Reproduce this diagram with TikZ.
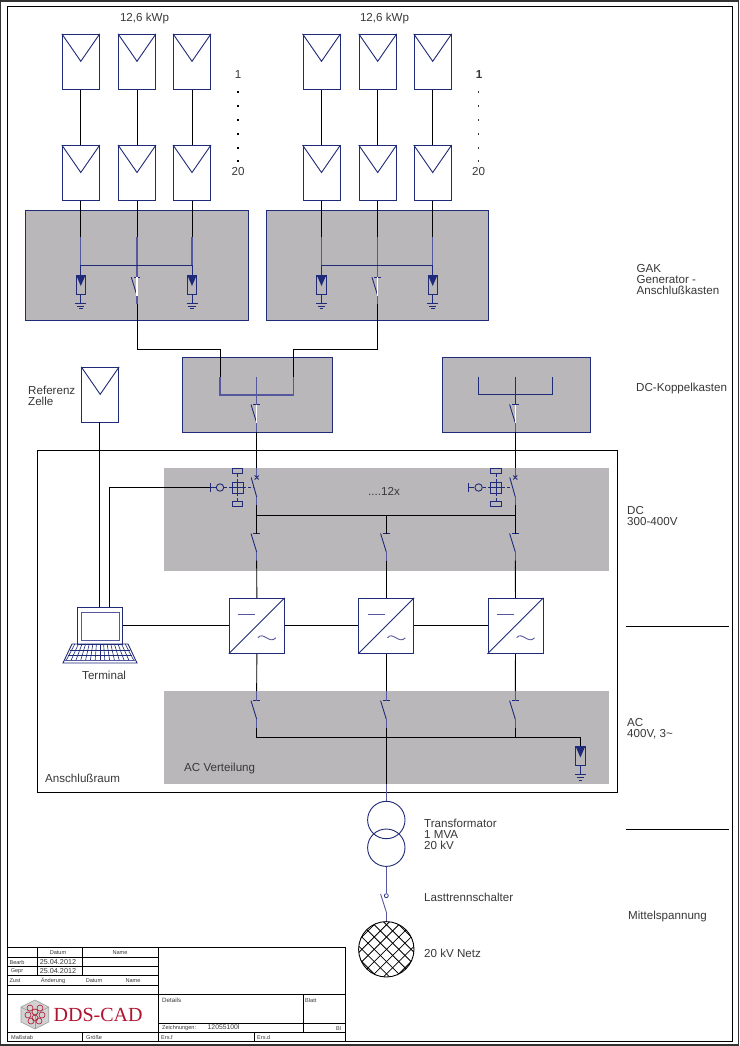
\documentclass[tikz,border=0pt]{standalone}
\usepackage{fontspec}
\usetikzlibrary{calc}
\setmainfont{Liberation Sans}
\newfontfamily\logofont{Liberation Serif}
\definecolor{navy}{HTML}{1F2A78}
\definecolor{softblue}{HTML}{55589F}
\definecolor{boxgrey}{HTML}{B9B7BA}
\definecolor{txtgrey}{HTML}{383838}
\definecolor{logored}{HTML}{B0142F}
\definecolor{edgegrey}{HTML}{333333}
\tikzset{
  wire/.style={draw=black,line width=0.95pt},
  blueline/.style={draw=navy,line width=0.9pt},
  softline/.style={draw=softblue,line width=1.2pt},
  softthin/.style={draw=softblue,line width=0.9pt},
  pvbox/.style={draw=navy,line width=0.95pt,fill=white,minimum width=37pt,minimum height=55pt,inner sep=0pt},
  greybox/.style={draw=navy,line width=0.9pt,fill=boxgrey,inner sep=0pt,anchor=north west},
  greystrip/.style={fill=boxgrey,inner sep=0pt,anchor=north west},
  invbox/.style={draw=navy,line width=0.95pt,fill=white,minimum width=55pt,minimum height=55pt,inner sep=0pt},
  lbl/.style={anchor=west,inner sep=0pt,text=txtgrey,align=left,font=\fontsize{11.6}{11}\selectfont},
  lblc/.style={inner sep=0pt,text=txtgrey,font=\fontsize{11.6}{11}\selectfont},
  smalltxt/.style={inner sep=0pt,text=txtgrey,font=\fontsize{5.6}{6}\selectfont},
  smalltxtl/.style={anchor=west,inner sep=0pt,text=txtgrey,font=\fontsize{5.6}{6}\selectfont},
  tbl/.style={draw=black,line width=0.9pt},
}
% PV module
\newcommand{\pvmod}[3]{%
  \node[pvbox] (#1) at (#2,#3) {};
  \draw[blueline,line join=miter] (#1.north west) -- ($(#1.north)+(0,-27.5pt)$) -- (#1.north east);
}
% diode with earth: name, x, y top
\newcommand{\sdiode}[3]{%
  \node[draw=navy,line width=0.9pt,minimum width=9.4pt,minimum height=19pt,inner sep=0pt,anchor=north] (#1) at (#2,#3) {};
  \fill[navy] ($(#1.north west)+(0.5pt,-0.5pt)$) rectangle ($(#1.north east)+(-0.5pt,-2.4pt)$);
  \fill[navy] ($(#1.north west)+(1pt,-2pt)$) -- ($(#1.north east)+(-1pt,-2pt)$) -- ($(#1.north)+(0,-11.5pt)$) -- cycle;
  \coordinate (#1e) at ($(#1.south)+(0,-9pt)$);
  \draw[blueline] (#1.south) -- (#1e);
  \draw[blueline] ($(#1e)+(-5.5pt,0)$) -- ($(#1e)+(5.5pt,0)$);
  \draw[blueline] ($(#1e)+(-3.6pt,-2.8pt)$) -- ($(#1e)+(3.6pt,-2.8pt)$);
  \draw[blueline] ($(#1e)+(-1.8pt,-5.4pt)$) -- ($(#1e)+(1.8pt,-5.4pt)$);
}
% disconnector: name, x, y of tick
\newcommand{\swt}[3]{%
  \coordinate (#1t) at (#2,#3);
  \coordinate (#1m) at (#2,#3+18.5);
  \coordinate (#1b) at (#2,#3+27);
  \draw[blueline] ($(#1t)+(-3.3pt,0)$) -- ($(#1t)+(3.3pt,0)$);
  \draw[blueline] ($(#1t)+(-5.7pt,0)$) -- (#1m);
  \draw[softline] (#1m) -- (#1b);
}
% inverter: name, x
\newcommand{\inverter}[2]{%
  \node[invbox] (#1) at (#2,625.8) {};
  \draw[blueline] (#1.south west) -- (#1.north east);
  \draw[softthin] ($(#1.center)+(-18.8pt,11.5pt)$) -- ($(#1.center)+(-1.5pt,11.5pt)$);
  \draw[softthin] ($(#1.center)+(1.2pt,-12pt)$) .. controls ($(#1.center)+(6pt,-5pt)$) and ($(#1.center)+(13pt,-19pt)$) .. ($(#1.center)+(19pt,-12pt)$);
}
% motor breaker: name prefix, x offset
\newcommand{\breaker}[2]{%
  \begin{scope}[shift={(#2,0)}]
    \coordinate (#1tick) at (210,487.5);
    \node[draw=navy,line width=0.9pt,circle,minimum size=7.4pt,inner sep=0pt] (#1c) at (220,487.5) {};
    \node[draw=navy,line width=0.9pt,minimum width=11pt,minimum height=11pt,inner sep=0pt] (#1s) at (237.5,487.5) {};
    \node[draw=navy,line width=0.9pt,minimum width=10.4pt,minimum height=5pt,inner sep=0pt] (#1u) at (237.5,470.8) {};
    \node[draw=navy,line width=0.9pt,minimum width=10.4pt,minimum height=5pt,inner sep=0pt] (#1d) at (237.5,503.8) {};
    \draw[blueline] (210,483.3) -- (210,491.7);
    \draw[blueline] (#1tick) -- (#1c.west);
    \draw[blueline] (#1s.north) -- (#1s.south);
    \draw[blueline] (#1s.west) -- (#1s.east);
    \draw[blueline,dash pattern=on 3pt off 2pt] (#1c.east) -- (#1s.west);
    \draw[blueline,dash pattern=on 3pt off 2pt] (#1s.east) -- (253.8,487.5);
    \draw[blueline,dash pattern=on 3pt off 2pt] (#1u.south) -- (#1s.north);
    \draw[blueline,dash pattern=on 3pt off 2pt] (#1s.south) -- (#1d.north);
    \coordinate (#1in) at (256.7,468);
    \coordinate (#1x) at (256.7,477.5);
    \coordinate (#1m) at (256.7,497);
    \coordinate (#1b) at (256.7,505);
    \draw[softline] (#1in) -- (#1x);
    \draw[blueline] ($(#1x)+(-2pt,-2pt)$) -- ($(#1x)+(2pt,2pt)$);
    \draw[blueline] ($(#1x)+(-2pt,2pt)$) -- ($(#1x)+(2pt,-2pt)$);
    \draw[blueline] (251.2,477.5) -- (#1m);
    \draw[softline] (#1m) -- (#1b);
  \end{scope}
}
% generator group
\newcommand{\gakgroup}[2]{%
  \begin{scope}[shift={(#2,0)}]
    \node[greybox,minimum width=222.2pt,minimum height=110.5pt] (#1box) at (25.3,209.5) {};
    \pvmod{#1a}{80.8}{61.8}\pvmod{#1b}{137}{61.8}\pvmod{#1c}{192}{61.8}
    \pvmod{#1d}{80.8}{173}\pvmod{#1e}{137}{173}\pvmod{#1f}{192}{173}
    \draw[wire] (#1a.south) -- (#1d.north);
    \draw[wire] (#1b.south) -- (#1e.north);
    \draw[wire] (#1c.south) -- (#1f.north);
    \sdiode{#1p}{80.8}{274.5}
    \sdiode{#1q}{192}{274.5}
    \swt{#1sw}{137}{277.2}
    \coordinate (#1u1) at (80.8,237);
    \coordinate (#1u2) at (137,237);
    \coordinate (#1u3) at (192,237);
    \coordinate (#1j1) at (80.8,265);
    \coordinate (#1j2) at (137,265);
    \coordinate (#1j3) at (192,265);
    \draw[wire] (#1d.south) -- (#1u1);
    \draw[wire] (#1e.south) -- (#1u2);
    \draw[wire] (#1f.south) -- (#1u3);
    \draw[softline] (#1u1) -- (#1j1);
    \draw[softline] (#1u2) -- (#1swt);
    \draw[softline] (#1u3) -- (#1j3);
    \draw[blueline] (#1j1) -- (#1p.north);
    \draw[blueline] (#1j3) -- (#1q.north);
    \draw[blueline] (#1j1) -- (#1j3);
    \draw[draw=white,line width=1.2pt] (#1swt) -- (#1swm);
  \end{scope}
}
\begin{document}
\begin{tikzpicture}[x=1pt,y=-1pt]
\useasboundingbox (0,0) rectangle (739,1046);
\fill[edgegrey] (0,0) rectangle (739,1046);
\fill[white] (1,2.5) rectangle (738,1044);
\coordinate (fa) at (7.3,6);
\coordinate (fb) at (732,1041.7);
\draw[tbl] (fa) rectangle (fb);

% generator groups
\gakgroup{g}{0}
\gakgroup{h}{240.7}
\node[lblc] (kwp1) at (144.5,19) {12,6 kWp};
\node[lblc] (kwp2) at (384.5,19) {12,6 kWp};
\node[lblc] (n1a) at (238,75) {1};
\node[lblc] (n1b) at (238,172) {20};
\node[lblc,font=\fontsize{11.6}{11}\selectfont\bfseries] (n2a) at (479,75) {1};
\node[lblc] (n2b) at (478.5,172) {20};
\foreach \yy in {92,106,120,134,148,161} {
  \fill[black] (237,\yy-0.8) rectangle (239,\yy+0.8);
  \fill[txtgrey] (477.5,\yy-0.6) rectangle (479,\yy+0.6);
}

% coupling boxes
\node[greybox,minimum width=149.2pt,minimum height=74.2pt] (dc1) at (182.3,357.3) {};
\node[greybox,minimum width=148.5pt,minimum height=74.7pt] (dc2) at (441.5,357.3) {};
\coordinate (a1) at (137,349);
\coordinate (a2) at (220,349);
\coordinate (a3) at (220,376.5);
\coordinate (a4) at (220,395);
\coordinate (b1) at (377.7,349);
\coordinate (b2) at (293.3,349);
\coordinate (b3) at (293.3,376.5);
\coordinate (b4) at (293.3,395);
\coordinate (a5) at (256.7,376.5);
\coordinate (a6) at (256.7,395);
\draw[wire] (gswb) -- (a1) -- (a2) -- (a3);
\draw[wire] (hswb) -- (b1) -- (b2) -- (b3);
\draw[softline] (a3) -- (a4) -- (b4) -- (b3);
\swt{k}{256.7}{404.5}
\draw[softline] (a5) -- (kt);
\draw[draw=white,line width=1.2pt] (kt) -- (km);
\coordinate (c1) at (478.3,376.5);
\coordinate (c2) at (478.3,394);
\coordinate (c3) at (552,394);
\coordinate (c4) at (552,376.5);
\coordinate (c5) at (515.3,376.5);
\draw[blueline] (c1) -- (c2) -- (c3) -- (c4);
\swt{l}{515.3}{404.5}
\draw[blueline] (c5) -- (lt);
\draw[draw=white,line width=1.2pt] (lt) -- (lm);

% connection room
\node[draw=black,line width=0.95pt,inner sep=0pt,minimum width=580pt,minimum height=342.3pt,anchor=north west] (room) at (37.3,450) {};
\node[greystrip,minimum width=445pt,minimum height=103pt] (dcs) at (164,467.7) {};
\node[greystrip,minimum width=445pt,minimum height=92.7pt] (acs) at (164,691) {};

% reference cell, terminal
\pvmod{ref}{100.2}{394.8}
\node[draw=navy,line width=0.95pt,fill=white,inner sep=0pt,minimum width=45.6pt,minimum height=36.7pt,anchor=north west] (term) at (76.7,607.3) {};
\node[draw=softblue,line width=0.9pt,inner sep=0pt,minimum width=38pt,minimum height=28pt] (screen) at (term.center) {};
\coordinate (k1) at (72,644);
\coordinate (k2) at (128,644);
\coordinate (k3) at (137,663);
\coordinate (k4) at (63,663);
\draw[blueline,line join=miter] (k1) -- (k2) -- (k3) -- (k4) -- cycle;
\draw[softline] (64.5,660.5) -- (135.5,660.5);
\draw[blueline] (70,650) -- (130,650);
\draw[blueline] (68,655) -- (132,655);
\foreach \dx in {-28,-24,-20,-16,-12,-8,-4,0,4,8,12,16,20,24,28} {
  \draw[navy,line width=0.6pt] ({100+\dx*0.9},644) -- ({100+\dx*1.2},660);
}
\coordinate (tw1) at (99.4,607.3);
\coordinate (tw2) at (109.3,607.3);
\coordinate (rw) at (99.4,422.3);
\draw[wire] (rw) -- (tw1);

% breakers and DC switches
\breaker{bl}{0}
\breaker{br}{258.6}
\draw[wire] (tw2) |- (bltick);
\draw[wire] (kb) -- (blin);
\draw[wire] (lb) -- (brin);
\swt{d1}{256.7}{533.5}
\swt{d2}{386.3}{533.5}
\swt{d3}{515.3}{533.5}
\coordinate (bus1) at (256.7,515.3);
\coordinate (bus2) at (386.3,515.3);
\coordinate (bus3) at (515.3,515.3);
\draw[wire] (blb) -- (bus1) -- (d1t);
\draw[wire] (brb) -- (bus3) -- (d3t);
\draw[wire] (bus1) -- (bus3);
\draw[wire] (bus2) -- (d2t);

% inverters
\inverter{i1}{256.8}
\inverter{i2}{386.3}
\inverter{i3}{515.5}
\draw[wire] (d1b) -- (i1.north);
\draw[wire] (d2b) -- (i2.north);
\draw[wire] (d3b) -- (i3.north);
\draw[wire] (term.east |- i1.west) -- (i1.west);
\draw[wire] (i1.east) -- (i2.west);
\draw[wire] (i2.east) -- (i3.west);

% AC side
\swt{e1}{256.7}{700.7}
\swt{e2}{386.3}{700.7}
\swt{e3}{515.3}{700.7}
\coordinate (g1) at (256.7,691);
\coordinate (g2) at (386.3,691);
\coordinate (g3) at (515.3,691);
\draw[wire] (i1.south) -- (g1);
\draw[wire] (i2.south) -- (g2);
\draw[wire] (i3.south) -- (g3);
\draw[softline] (g1) -- (e1t);
\draw[softline] (g2) -- (e2t);
\draw[softline] (g3) -- (e3t);
\coordinate (abus1) at (256.7,737.3);
\coordinate (abus2) at (386.3,737.3);
\coordinate (abus3) at (515.3,737.3);
\coordinate (abus4) at (580.4,737.3);
\sdiode{acd}{580.4}{746}
\draw[wire] (e1b) -- (abus1) -- (abus4) -- (acd.north);
\draw[wire] (e2b) -- (abus2);
\draw[wire] (e3b) -- (abus3);

% transformer and grid
\node[draw=navy,line width=0.9pt,circle,minimum size=37.4pt,inner sep=0pt] (t1) at (386.3,820) {};
\node[draw=navy,line width=0.9pt,circle,minimum size=37.4pt,inner sep=0pt] (t2) at (386.3,847.7) {};
\coordinate (hv) at (386.3,784);
\draw[wire] (abus2) -- (hv);
\draw[softthin] (hv) -- (t1.north);
\node[draw=navy,line width=0.7pt,circle,minimum size=4pt,inner sep=0pt] (lo) at (386.3,895.7) {};
\coordinate (lsm) at (386.3,912);
\node[draw=black,line width=0.9pt,circle,minimum size=55.4pt,inner sep=0pt] (net) at (386.3,949.3) {};
\draw[softthin] (t2.south) -- (lo.north);
\draw[softthin] (380.6,894) -- (lsm);
\draw[softthin] (lsm) -- (net.north);
\begin{scope}
  \clip (386.3,949.3) circle (27.7);
  \foreach \d in {-49,-36.7,-24.4,-12.1,0.2,12.5,24.8,37.1,49.4} {
    \draw[black,line width=0.8pt] ({386.3+\d-40},909.3) -- ({386.3+\d+40},989.3);
    \draw[black,line width=0.8pt] ({386.3+\d+40},909.3) -- ({386.3+\d-40},989.3);
  }
\end{scope}

% right column
\coordinate (r1) at (626,626.3);
\coordinate (r2) at (729,626.3);
\coordinate (r3) at (626,829);
\coordinate (r4) at (729,829);
\draw[wire] (r1) -- (r2);
\draw[wire] (r3) -- (r4);

% labels
\node[lbl] (t-gak) at (636.5,279.5) {GAK\\Generator -\\Anschlußkasten};
\node[lbl] (t-dck) at (636,388) {DC-Koppelkasten};
\node[lbl] (t-dc) at (627,516) {DC\\300-400V};
\node[lbl] (t-ac) at (627,729) {AC\\400V, 3\textasciitilde};
\node[lbl] (t-mit) at (628,916) {Mittelspannung};
\node[lbl] (t-ref) at (28,395.5) {Referenz\\Zelle};
\node[lbl] (t-term) at (82,675) {Terminal};
\node[lbl] (t-ans) at (45,778) {Anschlußraum};
\node[lbl] (t-acv) at (184,768) {AC Verteilung};
\node[lbl] (t-12x) at (368,491) {....12x};
\node[lbl] (t-tra) at (424,834) {Transformator\\1 MVA\\20 kV};
\node[lbl] (t-las) at (424,897) {Lasttrennschalter};
\node[lbl] (t-netz) at (424,953) {20 kV Netz};

% title block
\draw[tbl] (7.7,947.3) rectangle (345,1041.5);
\draw[tbl] (7.7,957.3) -- (158.5,957.3);
\draw[tbl] (7.7,966.3) -- (158.5,966.3);
\draw[tbl] (7.7,975.3) -- (158.5,975.3);
\draw[tbl] (7.7,985.3) -- (158.5,985.3);
\draw[tbl] (7.7,994.3) -- (345,994.3);
\draw[tbl] (158.5,1023.3) -- (345,1023.3);
\draw[tbl] (7.7,1032.3) -- (345,1032.3);
\draw[tbl] (37.7,947.3) -- (37.7,975.3);
\draw[tbl] (82.7,947.3) -- (82.7,975.3);
\draw[tbl] (158.5,947.3) -- (158.5,1041.5);
\draw[tbl] (303.7,994.3) -- (303.7,1032.3);
\draw[tbl] (82.7,1032.3) -- (82.7,1041.5);
\draw[tbl] (254.7,1032.3) -- (254.7,1041.5);
\node[smalltxt] (tb1) at (58,953) {Datum};
\node[smalltxt] (tb2) at (120,953) {Name};
\node[smalltxt] (tb3) at (17,962) {Bearb};
\node[smalltxt] (tb4) at (17,971) {Gepr};
\node[inner sep=0pt,text=txtgrey,font=\fontsize{7.2}{8}\selectfont] (tb5) at (58,962) {25.04.2012};
\node[inner sep=0pt,text=txtgrey,font=\fontsize{7.2}{8}\selectfont] (tb6) at (58,971) {25.04.2012};
\node[smalltxt] (tb7) at (15,981) {Zust};
\node[smalltxt] (tb8) at (53,981) {Änderung};
\node[smalltxt] (tb9) at (94,981) {Datum};
\node[smalltxt] (tb10) at (133,981) {Name};
\node[smalltxtl,font=\fontsize{6.2}{7}\selectfont] (tb11) at (162,1000) {Details};
\node[smalltxtl] (tb12) at (305,1000) {Blatt};
\node[smalltxtl] (tb13) at (162,1028) {Zeichnungen:};
\node[inner sep=0pt,text=txtgrey,font=\fontsize{6.8}{8}\selectfont,anchor=west] (tb14) at (207.5,1027.5) {12055100l};
\node[smalltxtl] (tb15) at (336,1028) {Bl};
\node[smalltxtl] (tb16) at (11,1037) {Maßstab};
\node[smalltxtl] (tb17) at (86,1037) {Größe};
\node[smalltxtl] (tb18) at (161,1037) {Ers.f};
\node[smalltxtl] (tb19) at (257,1037) {Ers.d};
% logo
\coordinate (lc) at (35,1014.5);
\fill[gray!35,draw=gray!80,line width=0.6pt] (21,1007) -- (35,1000) -- (48.7,1007) -- (48.7,1022) -- (35,1029) -- (21,1022) -- cycle;
\draw[gray!80,line width=0.5pt] (21,1007) -- (35,1014.5) -- (48.7,1007);
\draw[gray!80,line width=0.5pt] (lc) -- (35,1029);
\foreach \cx/\cy in {30/1008,40/1008,28/1015,42/1015,35/1012,31/1021,39/1021,35/1018} {
  \draw[logored,line width=0.6pt] (\cx,\cy) circle (3);
}
\node[inner sep=0pt,anchor=base west,text=logored,font=\logofont\fontsize{20}{20}\selectfont] (logo) at (53.5,1021) {DDS-CAD};
\end{tikzpicture}
\end{document}
